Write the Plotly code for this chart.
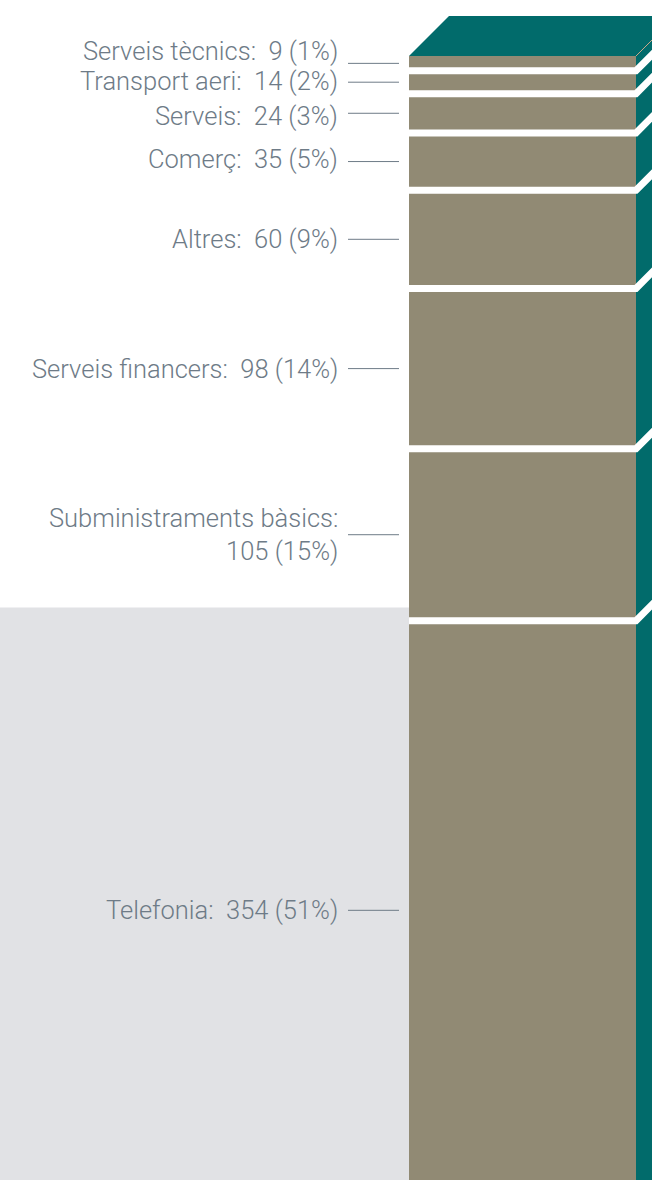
import plotly.graph_objects as go

# ---- data ----
categories = ["Serveis tècnics", "Transport aeri", "Serveis", "Comerç", "Altres",
              "Serveis financers", "Subministraments bàsics", "Telefonia"]
values = [9, 14, 24, 35, 60, 98, 105, 354]
percents = [1, 2, 3, 5, 9, 14, 15, 51]

# ---- style / layout constants ----
W, H = 652, 1180
FRONT = "#918A74"
TEAL = "#016B6B"
BG_GRAY = "#E1E2E5"
TXT = "#6E7B87"
FONT = "Roboto"
NB = "\u00a0"

# axis geometry (pixels -> data units)
x_px = 227.0                       # pixels per x unit (bar width 1)
bar_left_px = 409.0
x0 = -0.5 - bar_left_px / x_px
x1 = 0.5 + (W - bar_left_px - x_px) / x_px
total = sum(values)
top_px = 56.0
y_px = (1200.0 - top_px) / total   # pixels per value unit
y_top = -top_px / y_px
y_bot = (H - top_px) / y_px
depth_x = 40.0 / x_px
depth_y = 40.0 / y_px

# label offsets (pixels) for crowded top labels
text_shift = [12, 1, -3, 3, 0, 0, 0, 0]

bases = []
acc = 0
for v in values:
    bases.append(acc)
    acc += v

fig = go.Figure()

# front face segments
for cat, v, b in zip(categories, values, bases):
    fig.add_trace(go.Bar(
        x=[0], y=[v], base=[b], width=[1.0], name=cat,
        marker=dict(color=FRONT, line=dict(width=0)),
        hoverinfo="skip", showlegend=False))

# side face
fig.add_trace(go.Scatter(
    x=[0.5, 0.5 + depth_x, 0.5 + depth_x, 0.5, 0.5],
    y=[0, -depth_y, total - depth_y, total, 0],
    mode="lines", fill="toself", fillcolor=TEAL, line=dict(width=0, color=TEAL),
    hoverinfo="skip", showlegend=False))

# top face
fig.add_trace(go.Scatter(
    x=[-0.5, -0.5 + depth_x, 0.5 + depth_x, 0.5, -0.5],
    y=[0, -depth_y, -depth_y, 0, 0],
    mode="lines", fill="toself", fillcolor=TEAL, line=dict(width=0, color=TEAL),
    hoverinfo="skip", showlegend=False))

# thin edge line between top and side
fig.add_trace(go.Scatter(
    x=[0.5, 0.5 + depth_x], y=[0, -depth_y], mode="lines",
    line=dict(color="#C9A688", width=1), hoverinfo="skip", showlegend=False))

# white separators between segments (front + side)
for b in bases[1:]:
    fig.add_trace(go.Scatter(
        x=[-0.5, 0.5, 0.5 + depth_x], y=[b, b, b - depth_y], mode="lines",
        line=dict(color="white", width=7), hoverinfo="skip", showlegend=False))

# labels and leader lines
lab_x = -0.5 - (bar_left_px - 340) / x_px
lead_x0 = -0.5 - (bar_left_px - 348) / x_px
lead_x1 = -0.5 - (bar_left_px - 399) / x_px
annotations = []
for i, (cat, v, p, b) in enumerate(zip(categories, values, percents, bases)):
    yc = b + v / 2
    fig.add_trace(go.Scatter(
        x=[lead_x0, lead_x1], y=[yc, yc], mode="lines",
        line=dict(color=TXT, width=1), hoverinfo="skip", showlegend=False))
    if cat == "Subministraments bàsics":
        txt = f"{cat}:<br>{v} ({p}%)"
    else:
        txt = f"{cat}:{NB} {v} ({p}%)"
    annotations.append(dict(
        x=lab_x, y=yc, xref="x", yref="y", text=txt, showarrow=False,
        xanchor="right", yanchor="middle", align="right", yshift=text_shift[i],
        font=dict(family=FONT, size=25.5, color=TXT, weight=300)))

fig.update_layout(
    width=W, height=H,
    margin=dict(l=0, r=0, t=0, b=0),
    paper_bgcolor="white", plot_bgcolor="rgba(0,0,0,0)",
    barmode="overlay", bargap=0,
    xaxis=dict(range=[x0, x1], visible=False, fixedrange=True),
    yaxis=dict(range=[y_bot, y_top], visible=False, fixedrange=True),
    annotations=annotations,
    shapes=[dict(type="rect", xref="paper", yref="paper",
                 x0=0, x1=bar_left_px / W, y0=0, y1=1 - 607.5 / H,
                 fillcolor=BG_GRAY, line=dict(width=0), layer="below")],
)

fig.write_html(
    "out.html",
    config={"displayModeBar": False, "staticPlot": True},
    post_script="document.body.style.margin='0';document.body.style.overflow='hidden';",
)
